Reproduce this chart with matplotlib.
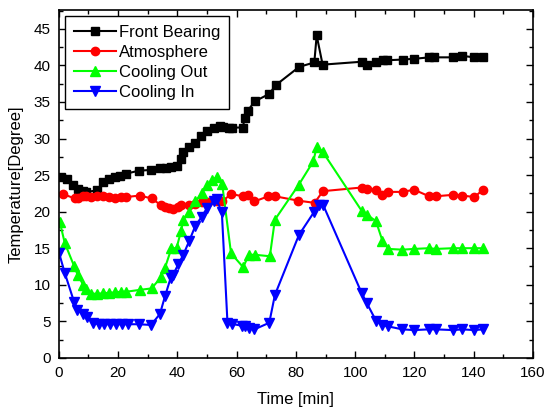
import matplotlib
matplotlib.use("Agg")
import matplotlib.pyplot as plt
from matplotlib.ticker import MultipleLocator

plt.rcParams['font.family'] = ['Liberation Sans', 'DejaVu Sans']

# 데이터
t_front = [0.7, 2.6, 4.8, 6.3, 8.2, 9.3, 12.9, 15.0, 17.0, 18.9, 20.8, 22.8, 27.0, 31.1,
           34.1, 36.0, 38.0, 40.0, 41.2, 42.0, 43.9, 45.9, 47.8, 50.1, 52.3, 54.3, 55.5,
           57.4, 58.5, 62.0, 62.8, 63.7, 66.2, 71.0, 73.2, 81.1, 86.2, 87.0, 89.0, 102.2,
           104.1, 107.0, 109.5, 110.8, 116.0, 119.9, 125.0, 126.7, 132.9, 136.1, 140.2, 143.0]
front = [24.8, 24.4, 23.7, 23.1, 22.8, 22.7, 22.9, 24.0, 24.4, 24.7, 24.9, 25.2, 25.6, 25.7,
         25.9, 26.0, 26.1, 26.2, 27.2, 28.2, 28.8, 29.4, 30.3, 31.0, 31.5, 31.7, 31.6,
         31.4, 31.5, 31.5, 32.8, 33.8, 35.1, 36.1, 37.3, 39.8, 40.4, 44.1, 40.1, 40.5,
         40.1, 40.5, 40.7, 40.7, 40.8, 40.9, 41.1, 41.1, 41.1, 41.3, 41.1, 41.1]

t_atmo = [1.4, 5.4, 6.3, 8.2, 9.3, 11.0, 13.0, 15.0, 17.0, 18.9, 20.9, 22.8, 27.3, 31.3,
          34.4, 35.8, 37.0, 38.6, 40.3, 41.2, 43.9, 45.9, 48.2, 50.4, 53.2, 55.1, 58.1,
          62.2, 63.9, 66.0, 70.7, 72.9, 80.8, 86.3, 89.1, 102.2, 103.9, 107.0, 109.2,
          111.2, 116.0, 119.9, 124.9, 127.2, 133.1, 136.1, 140.2, 143.2]
atmo = [22.4, 21.8, 21.9, 22.1, 22.1, 22.0, 22.1, 22.1, 22.0, 21.9, 22.0, 22.0, 22.2, 21.8,
        20.9, 20.7, 20.5, 20.3, 20.7, 20.9, 20.9, 21.1, 21.3, 21.3, 21.4, 21.4, 22.4,
        22.1, 22.3, 21.4, 22.1, 22.1, 21.5, 21.2, 22.8, 23.3, 23.1, 23.0, 22.3,
        22.7, 22.7, 23.0, 22.1, 22.1, 22.3, 22.2, 22.0, 23.0]

t_out = [0.3, 2.0, 5.2, 6.3, 8.2, 9.3, 11.0, 13.0, 15.0, 17.0, 18.9, 20.9, 22.8, 27.3, 31.3,
         34.4, 35.8, 38.0, 39.7, 41.2, 42.0, 43.9, 46.1, 48.2, 50.1, 51.7, 53.2, 55.1, 58.1,
         62.2, 64.1, 66.2, 71.2, 72.9, 81.0, 85.9, 87.0, 89.0, 102.2, 103.9, 107.0, 109.2,
         111.2, 115.9, 119.9, 124.9, 127.2, 133.1, 136.1, 140.2, 143.2]
cool_out = [18.6, 15.7, 12.5, 11.4, 10.0, 9.4, 8.8, 8.75, 8.85, 8.9, 8.95, 9.05, 9.05, 9.3, 9.5,
            11.0, 12.3, 15.0, 15.0, 17.3, 18.9, 20.0, 21.4, 22.5, 23.7, 24.3, 24.7, 23.8, 14.3,
            12.4, 14.1, 14.1, 13.9, 18.9, 23.7, 26.9, 28.9, 28.2, 20.1, 19.6, 18.7, 16.0,
            14.9, 14.8, 14.9, 15.0, 14.9, 15.0, 15.0, 15.0, 15.0]

t_in = [0.1, 2.0, 5.1, 6.2, 8.0, 9.6, 11.6, 13.5, 15.2, 17.2, 19.2, 21.2, 23.2, 27.1, 31.1,
        34.1, 35.8, 37.7, 38.6, 40.3, 42.0, 44.0, 46.0, 48.2, 50.0, 52.3, 53.2, 55.0, 56.9,
        58.3, 61.7, 62.8, 64.1, 66.0, 71.0, 72.9, 81.0, 86.2, 87.8, 89.2, 102.2, 103.9,
        107.0, 109.2, 111.2, 115.9, 119.9, 124.9, 127.2, 133.1, 136.1, 140.2, 143.2]
cool_in = [14.3, 11.6, 7.7, 6.6, 6.0, 5.65, 4.8, 4.6, 4.6, 4.6, 4.6, 4.6, 4.6, 4.6, 4.5,
           6.0, 8.4, 10.9, 11.4, 12.8, 14.1, 16.0, 18.0, 19.3, 20.5, 21.4, 21.7, 19.9, 4.8,
           4.65, 4.4, 4.3, 4.1, 3.9, 4.8, 8.6, 16.8, 20.0, 20.9, 20.9, 8.85, 7.5,
           5.1, 4.5, 4.3, 3.9, 3.8, 3.9, 3.9, 3.8, 3.9, 3.8, 3.9]

fig = plt.figure(figsize=(5.45, 4.09), dpi=100)
ax = fig.add_axes([0.108, 0.125, 0.870, 0.851])

ax.plot(t_front, front, '-s', color='black', lw=1.5, ms=5.5, label='Front Bearing')
ax.plot(t_atmo, atmo, '-o', color='#ff0000', lw=1.5, ms=6, label='Atmosphere')
ax.plot(t_out, cool_out, '-^', color='#00ff00', lw=1.5, ms=6.5, label='Cooling Out')
ax.plot(t_in, cool_in, '-v', color='#0000ff', lw=1.5, ms=6.5, label='Cooling In')

ax.set_xlim(0, 160)
ax.set_ylim(0, 47.6)
ax.xaxis.set_major_locator(MultipleLocator(20))
ax.xaxis.set_minor_locator(MultipleLocator(10))
ax.yaxis.set_major_locator(MultipleLocator(5))
ax.yaxis.set_minor_locator(MultipleLocator(2.5))
ax.tick_params(which='both', direction='in', top=True, right=True, labelsize=11)
ax.tick_params(which='major', length=5, width=1)
ax.tick_params(which='minor', length=3, width=1)
ax.tick_params(axis='x', pad=5.5)
ax.tick_params(axis='y', pad=6)
for s in ax.spines.values():
    s.set_linewidth(1.2)

ax.set_xlabel('Time [min]', fontsize=12, labelpad=9)
ax.set_ylabel('Temperature[Degree]', fontsize=12, labelpad=7)

leg = ax.legend(loc='upper left', fontsize=12, numpoints=1, handlelength=2.5,
                handletextpad=0.2, labelspacing=0.3, borderaxespad=0.35,
                fancybox=False, edgecolor='black', framealpha=1, borderpad=0.55)
leg.get_frame().set_linewidth(1.0)

fig.savefig('out.png', dpi=100)
